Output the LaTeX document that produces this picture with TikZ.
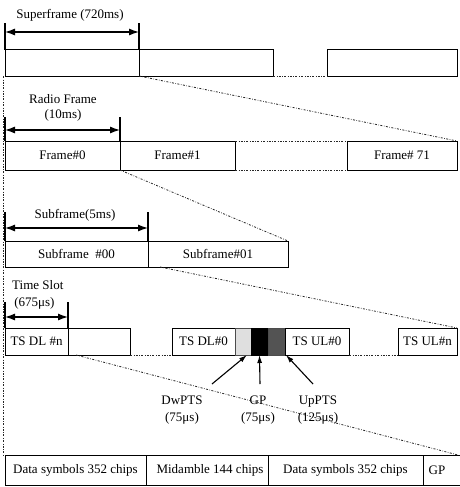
\documentclass[tikz,border=0pt]{standalone}
\usepackage{fontspec}
\setmainfont{Liberation Serif}
\usetikzlibrary{arrows.meta, positioning, calc}
\tikzset{
    slotbox/.style={rectangle, draw=black, fill=white, line width=1pt, inner sep=0pt, outer sep=0pt, anchor=north west, font=\fontsize{13}{15}\selectfont},
    dwbox/.style={slotbox, fill=gray!25, draw=gray!60!black, line width=0.6pt},
    gpbox/.style={slotbox, fill=black},
    upbox/.style={slotbox, fill=gray!65!black, draw=gray!60!black, line width=0.6pt},
    spanarrow/.style={<->, >={Latex[length=10pt, width=7pt]}, line width=1.2pt},
    bartick/.style={line width=1.1pt},
    zoomline/.style={draw=black!85, line width=0.8pt, dash pattern=on 2pt off 1.5pt on 0.6pt off 1.5pt},
    callout/.style={->, >={Latex[length=8pt, width=5pt]}, line width=1.1pt},
    labeltext/.style={font=\fontsize{13}{15}\selectfont, inner sep=0pt, align=center}
}

\begin{document}
\begin{tikzpicture}[x=1pt, y=-1pt]
    \useasboundingbox (0,0) rectangle (460,487);

    % Superframe
    \node[slotbox, minimum width=134pt, minimum height=26pt] (sf1) at (5,50) {};
    \node[slotbox, minimum width=134pt, minimum height=26pt, right=0pt of sf1] (sf2) {};
    \node[slotbox, minimum width=130pt, minimum height=26pt] (sf3) at (327,50) {};

    % Radio frames
    \node[slotbox, minimum width=115pt, minimum height=29pt] (fr0) at (5,141) {Frame\#0};
    \node[slotbox, minimum width=115pt, minimum height=29pt, right=0pt of fr0] (fr1) {Frame\#1};
    \node[slotbox, minimum width=110pt, minimum height=29pt] (fr71) at (347,141) {Frame\# 71};

    % Subframes
    \node[slotbox, minimum width=143pt, minimum height=26pt] (sub00) at (5,241) {Subframe\ \ \#00};
    \node[slotbox, minimum width=140pt, minimum height=26pt, right=0pt of sub00] (sub01) {Subframe\#01};

    % Time slots
    \node[slotbox, minimum width=63pt, minimum height=27pt] (tsn) at (5,328) {TS DL \#n};
    \node[slotbox, minimum width=62pt, minimum height=27pt, right=0pt of tsn] (ts2) {};
    \node[slotbox, minimum width=63pt, minimum height=27pt] (tsdl0) at (172,328) {TS DL\#0};
    \node[dwbox, minimum width=16pt, minimum height=27pt, right=0pt of tsdl0] (dw) {};
    \node[gpbox, minimum width=17pt, minimum height=27pt, right=0pt of dw] (gp) {};
    \node[upbox, minimum width=17pt, minimum height=27pt, right=0pt of gp] (up) {};
    \node[slotbox, minimum width=64pt, minimum height=27pt, right=0pt of up] (tsul0) {TS UL\#0};
    \node[slotbox, minimum width=59pt, minimum height=27pt] (tsuln) at (398,328) {TS UL\#n};

    % Burst
    \node[slotbox, minimum width=141pt, minimum height=30pt] (d1) at (5,455) {Data symbols 352 chips};
    \node[slotbox, minimum width=122pt, minimum height=30pt, right=0pt of d1] (mid) {\hspace*{6pt}Midamble 144 chips};
    \node[slotbox, minimum width=155pt, minimum height=30pt, right=0pt of mid] (d2) {Data symbols 352 chips};
    \node[slotbox, minimum width=40pt, minimum height=30pt, right=0pt of d2] (gpd) {GP\hspace*{12pt}};

    % Labels
    \node[labeltext] (sflbl) at (70,15) {Superframe (720ms)};
    \node[labeltext] (frlbl) at (63,108) {Radio Frame\\(10ms)};
    \node[labeltext] (sublbl) at (75,215) {Subframe(5ms)};
    \node[labeltext, align=left, anchor=west] (tslbl) at (12,295) {Time Slot\\[2pt]\,(675μs)};
    \node[labeltext] (dwlbl) at (182,410) {DwPTS\\[2pt](75μs)};
    \node[labeltext] (gplbl) at (258,410) {GP\\[2pt](75μs)};
    \node[labeltext] (uplbl) at (318,410) {UpPTS\\[2pt](125μs)};

    % Spans
    \draw[bartick] (sf1.north west) -- ++(0,-27);
    \draw[bartick] (sf1.north east) -- ++(0,-27);
    \draw[spanarrow] ([yshift=18pt]sf1.north west) -- ([yshift=18pt]sf1.north east);
    \draw[bartick] (fr0.north west) -- ++(0,-24);
    \draw[bartick] (fr0.north east) -- ++(0,-24);
    \draw[spanarrow] ([yshift=11pt]fr0.north west) -- ([yshift=11pt]fr0.north east);
    \draw[bartick] (sub00.north west) -- ++(0,-29);
    \draw[bartick] (sub00.north east) -- ++(0,-29);
    \draw[spanarrow] ([yshift=13pt]sub00.north west) -- ([yshift=13pt]sub00.north east);
    \draw[bartick] (tsn.north west) -- ++(0,-26);
    \draw[bartick] (tsn.north east) -- ++(0,-26);
    \draw[spanarrow] ([yshift=11pt]tsn.north west) -- ([yshift=11pt]tsn.north east);

    % Gaps
    \draw[zoomline] (sf2.south east) -- (sf3.south west);
    \draw[zoomline] (fr1.north east) -- (fr71.north west);
    \draw[zoomline] (fr1.south east) -- (fr71.south west);
    \draw[zoomline] (ts2.south east) -- (tsdl0.south west);
    \draw[zoomline] (tsul0.south east) -- (tsuln.south west);

    % Zoom lines
    \draw[zoomline] (sf1.south east) -- (fr71.north east);
    \draw[zoomline] (fr0.south east) -- (sub01.north east);
    \draw[zoomline] ([xshift=12pt]sub00.south east) -- (tsuln.north east);
    \draw[zoomline] ([xshift=8pt]tsn.south east) -- ([xshift=-5pt]gpd.north east);
    \draw[zoomline] ([xshift=-2pt]sf1.south west) -- ([xshift=-2pt]d1.north west);

    % Callouts
    \coordinate (dwtail) at (212,384);
    \coordinate (gptail) at (260,384);
    \coordinate (uptail) at (313,384);
    \draw[callout] (dwtail) -- ([xshift=4pt]dw.south);
    \draw[callout] (gptail) -- (gp.south);
    \draw[callout] (uptail) -- ([xshift=1pt]up.south east);
\end{tikzpicture}
\end{document}
